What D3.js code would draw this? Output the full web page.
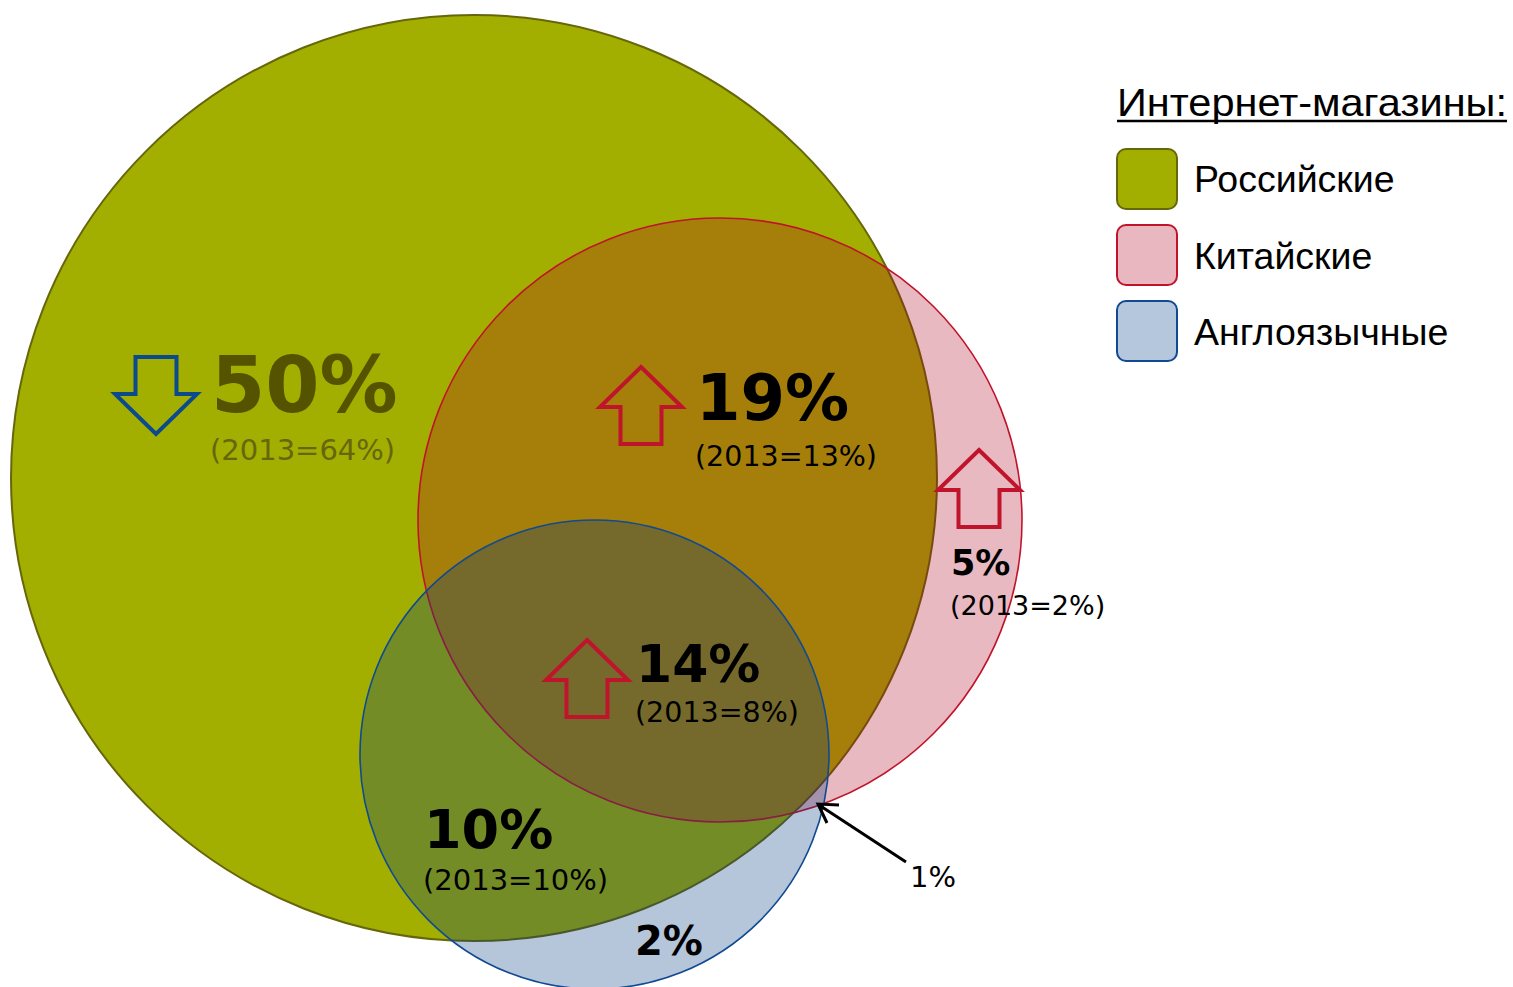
<!DOCTYPE html>
<html>
<head>
<meta charset="utf-8">
<script src="https://cdn.jsdelivr.net/npm/d3@7"></script>
<style>
  html, body { margin: 0; padding: 0; background: #fff; }
  svg { display: block; }
</style>
</head>
<body>
<div id="venn"></div>
<script>
// store groups (legend + circles)
var stores = ["Российские", "Китайские", "Англоязычные"];
var legendTitle = "Интернет-магазины:";

// segments of the diagram, 2014 share vs 2013 share
var segments = ["rus", "rus_chn", "chn", "rus_chn_eng", "rus_eng", "eng", "chn_eng"];
var share2014 = [50, 19, 5, 14, 10, 2, 1];
var share2013 = [64, 13, 2, 8, 10, null, null];

function draw_venn() {
  "use strict";
  var width = 1513,
      height = 987;

  var fills = ["#a2af00", "#ae0420", "#00387f"],
      strokes = ["#66660a", "#c0142c", "#0f4a92"],
      opac = [1, 0.28, 0.29],
      swatch = ["#a2af00", "#e8b7bf", "#b4c7dc"];

  // circle layout (centre / radius, px)
  var circles = [
    {cx: 474, cy: 478, r: 463},
    {cx: 720, cy: 520, r: 302},
    {cx: 594.5, cy: 754.5, r: 234.5}
  ];

  // where each segment's labels go
  var pos = {
    rus:         {x: 211, y: 412, fs: 78, sy: 460, sfs: 29, col: "#545400", scol: "#66660e", ax: 156, ay: 357},
    rus_chn:     {x: 696, y: 420, fs: 64, sy: 466, sfs: 28.5, col: "#000", scol: "#000", ax: 641, ay: 367},
    chn:         {x: 951, y: 575, fs: 35, sy: 615, sfs: 27, col: "#000", scol: "#000", ax: 979, ay: 450},
    rus_chn_eng: {x: 636, y: 682, fs: 52, sy: 722, sfs: 28.5, col: "#000", scol: "#000", ax: 587, ay: 640},
    rus_eng:     {x: 424, y: 848, fs: 54, sy: 890, sfs: 29, col: "#000", scol: "#000"},
    eng:         {x: 635, y: 955, fs: 40},
    chn_eng:     {x: 910, y: 887, fs: 29, plain: true}
  };

  var svg = d3.select("#venn")
      .append("svg")
      .attr("width", width)
      .attr("height", height);

  var g = svg.append("g").attr("class", "circles");

  g.selectAll("circle")
      .data(stores)
      .enter()
      .append("circle")
      .attr("cx", function(d, i) { return circles[i].cx; })
      .attr("cy", function(d, i) { return circles[i].cy; })
      .attr("r", function(d, i) { return circles[i].r; })
      .style("fill", function(d, i) { return fills[i]; })
      .style("fill-opacity", function(d, i) { return opac[i]; })
      .style("stroke", function(d, i) { return strokes[i]; })
      .style("stroke-width", function(d, i) { return i == 0 ? 2 : 1.6; });

  // block arrow, (x, y) = centre of top edge
  function arrowPath(x, y, up) {
    var w = 82, h = 77, hh = 40, sw = 41;
    var pts;
    if (up) {
      pts = [[x, y], [x + w/2, y + hh], [x + sw/2, y + hh], [x + sw/2, y + h],
             [x - sw/2, y + h], [x - sw/2, y + hh], [x - w/2, y + hh]];
    } else {
      pts = [[x - sw/2, y], [x + sw/2, y], [x + sw/2, y + h - hh], [x + w/2, y + h - hh],
             [x, y + h], [x - w/2, y + h - hh], [x - sw/2, y + h - hh]];
    }
    return d3.line()(pts) + "Z";
  }

  var labels = svg.append("g").attr("class", "labels");

  segments.forEach(function(s, i) {
    var p = pos[s];
    var now = share2014[i], before = share2013[i];

    if (before != null && now != before) {
      var up = now > before;
      labels.append("path")
          .attr("d", arrowPath(p.ax, p.ay, up))
          .style("fill", "none")
          .style("stroke", up ? "#c0142c" : "#0b4a8c")
          .style("stroke-width", 4)
          .style("stroke-linejoin", "miter");
    }

    labels.append("text")
        .attr("x", p.x)
        .attr("y", p.y)
        .style("font-family", "DejaVu Sans, Verdana, sans-serif")
        .style("font-weight", p.plain ? "normal" : "bold")
        .style("font-size", p.fs + "px")
        .style("fill", p.col || "#000")
        .text(now + "%");

    if (before != null) {
      labels.append("text")
          .attr("x", p.x - 1)
          .attr("y", p.sy)
          .style("font-family", "DejaVu Sans, Verdana, sans-serif")
          .style("font-size", p.sfs + "px")
          .style("fill", p.scol)
          .text("(2013=" + before + "%)");
    }
  });

  // pointer for the tiny 1% segment
  var tip = [818, 804];
  labels.append("line")
      .attr("x1", 906).attr("y1", 862)
      .attr("x2", tip[0] + 1).attr("y2", tip[1] + 1)
      .style("stroke", "#000")
      .style("stroke-width", 3);
  labels.append("path")
      .attr("d", d3.line()([[tip[0] + 21, tip[1] + 1], tip, [tip[0] + 9, tip[1] + 19]]))
      .style("fill", "none")
      .style("stroke", "#000")
      .style("stroke-width", 3);

  // legend
  var legend = svg.append("g").attr("class", "legend");

  legend.append("text")
      .attr("x", 1117)
      .attr("y", 116)
      .attr("textLength", 390)
      .attr("lengthAdjust", "spacingAndGlyphs")
      .style("font-family", "Liberation Sans, Arial, sans-serif")
      .style("font-size", "38.5px")
      .style("fill", "#000")
      .text(legendTitle);

  legend.append("line")
      .attr("x1", 1117).attr("x2", 1507)
      .attr("y1", 121).attr("y2", 121)
      .style("stroke", "#000")
      .style("stroke-width", 2.5);

  legend.selectAll("rect")
      .data(stores)
      .enter()
      .append("rect")
      .attr("x", 1117)
      .attr("y", function(d, i) { return 149 + i * 76; })
      .attr("width", 60)
      .attr("height", 60)
      .attr("rx", 9)
      .style("fill", function(d, i) { return swatch[i]; })
      .style("stroke", function(d, i) { return strokes[i]; })
      .style("stroke-width", 2);

  legend.selectAll(".leg_label")
      .data(stores)
      .enter()
      .append("text")
      .attr("class", "leg_label")
      .attr("x", 1194)
      .attr("y", function(d, i) { return 192 + i * 76.5; })
      .style("font-family", "Liberation Sans, Arial, sans-serif")
      .style("font-size", "37.5px")
      .style("fill", "#000")
      .text(function(d) { return d; });
}

draw_venn();
</script>
</body>
</html>
